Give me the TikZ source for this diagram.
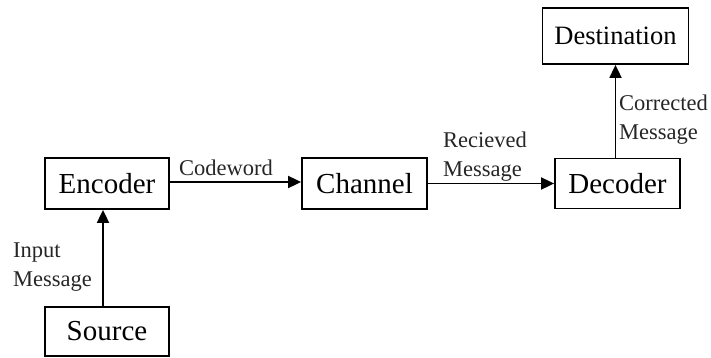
\documentclass[tikz,border=0pt]{standalone}
\usepackage{fontspec}
\setmainfont{Liberation Serif}
\usetikzlibrary{arrows.meta}
\begin{document}
\begin{tikzpicture}[x=1pt,y=-1pt,
  blk/.style={draw, line width=1.8pt, inner sep=0pt, font=\fontsize{29}{32}\selectfont},
  lbl/.style={inner sep=0pt, align=left, text=black!85, font=\fontsize{22.5}{29}\selectfont},
  arr/.style={line width=1.8pt, -{Triangle[length=13pt,width=12pt]}}]
\useasboundingbox (0,0) rectangle (711,358);
% blocks
\node[blk, minimum width=124pt, minimum height=51pt] (enc) at (107,183.5) {Encoder};
\node[blk, minimum width=124pt, minimum height=49pt] (src) at (107,331.5) {Source};
\node[blk, minimum width=125pt, minimum height=51pt] (chn) at (364.5,183.5) {Channel};
\node[blk, minimum width=125pt, minimum height=50pt] (dec) at (617.5,183.5) {Decoder};
\node[blk, minimum width=146pt, minimum height=56pt, font=\fontsize{26.5}{30}\selectfont] (dst) at (615.5,36) {Destination};
% connectors
\draw[arr] ([xshift=-4pt]src.north) -- ([xshift=-4pt]enc.south);
\draw[arr] ([yshift=1.5pt]enc.east) -- ([yshift=1.5pt]chn.west);
\draw[arr] (chn.east) -- (dec.west);
\draw[arr] ([xshift=-2pt]dec.north) -- (dst.south);
% labels
\node[lbl, anchor=west] (lin) at (13,267) {Input\\Message};
\node[lbl] (lcw) at (226,168) {Codeword};
\node[lbl, anchor=west] (lrc) at (443,157) {Recieved\\Message};
\node[lbl, anchor=west] (lco) at (619,120) {Corrected\\Message};
\end{tikzpicture}
\end{document}
